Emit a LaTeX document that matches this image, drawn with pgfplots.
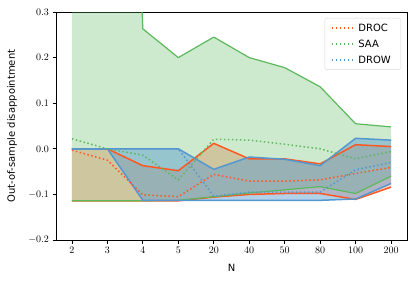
\documentclass[border=0pt]{standalone}
\usepackage{pgfplots}
\pgfplotsset{compat=1.18}
\usepackage{pgfplotstable}
\usepgfplotslibrary{fillbetween}
\usepackage{fontspec}
\setmainfont{DejaVu Sans}
\definecolor{cdroc}{RGB}{255,87,34}
\definecolor{csaa}{RGB}{92,184,92}
\definecolor{cdrow}{RGB}{85,152,207}

\pgfplotstableread{
i mean lo hi
0 -0.003 -0.114 0.000
1 -0.025 -0.114 0.000
2 -0.101 -0.114 -0.037
3 -0.105 -0.114 -0.048
4 -0.056 -0.106 0.012
5 -0.071 -0.100 -0.022
6 -0.071 -0.098 -0.022
7 -0.068 -0.098 -0.033
8 -0.054 -0.111 0.009
9 -0.041 -0.084 0.005
}\droc

\pgfplotstableread{
i mean lo hi
0 0.022 -0.114 2.0
1 0.000 -0.114 2.0
2 -0.014 -0.114 0.263
3 -0.068 -0.113 0.200
4 0.021 -0.105 0.245
5 0.019 -0.097 0.200
6 0.010 -0.090 0.178
7 0.000 -0.083 0.136
8 -0.022 -0.098 0.055
9 -0.006 -0.060 0.048
}\saa

\pgfplotstableread{
i mean lo hi
0 0.000 0.000 0.000
1 0.000 0.000 0.000
2 0.000 -0.113 0.000
3 0.000 -0.113 0.000
4 -0.104 -0.113 -0.045
5 -0.095 -0.113 -0.018
6 -0.095 -0.113 -0.023
7 -0.095 -0.113 -0.037
8 -0.046 -0.110 0.023
9 -0.030 -0.076 0.019
}\drow

\begin{document}
\begin{tikzpicture}
\begin{axis}[
  scale only axis,
  width=351pt, height=228pt,
  xmin=-0.45, xmax=9.45,
  ymin=-0.2, ymax=0.3,
  xtick={0,1,2,3,4,5,6,7,8,9},
  xticklabels={$2$,$3$,$4$,$5$,$20$,$40$,$50$,$80$,$100$,$200$},
  ytick={-0.2,-0.1,0,0.1,0.2,0.3},
  yticklabel style={/pgf/number format/.cd,fixed,fixed zerofill,precision=1},
  tick label style={font=\fontsize{10}{12}\selectfont},
  tick align=outside,
  xtick pos=bottom, ytick pos=left,
  major tick length=3.5pt,
  tick style={black, line width=0.8pt},
  axis line style={line width=0.8pt},
  xlabel={N},
  ylabel={Out-of-sample disappointment},
  label style={font=\fontsize{10}{12}\selectfont},
  every axis x label/.style={at={(axis description cs:0.5,-0.123)},anchor=center},
  every axis y label/.style={at={(axis description cs:-0.125,0.5)},rotate=90,anchor=center},
  legend cell align=left,
  legend image code/.code={\draw[#1] (0pt,0pt) -- (22pt,0pt);},
  legend style={at={(0.983,0.974)}, anchor=north east,
    draw=black!15, rounded corners=2pt, fill=white, fill opacity=0.8, text opacity=1,
    font=\fontsize{10}{12}\selectfont, row sep=4.5pt,
    nodes={inner xsep=4pt, inner ysep=2pt, text height=7.5pt, text depth=0pt},
    inner xsep=6pt, inner ysep=4pt},
  dotted line/.style={line width=1.5pt, dash pattern=on 1.5pt off 2.5pt, line cap=butt},
  solid line/.style={line width=1.5pt, line join=round},
]
% band edges
\addplot[name path=drochi, cdroc, solid line, forget plot] table[x=i,y=hi]{\droc};
\addplot[name path=droclo, cdroc, solid line, forget plot] table[x=i,y=lo]{\droc};
\addplot[name path=saahi, csaa, solid line, line width=1.2pt, forget plot] table[x=i,y=hi]{\saa};
\addplot[name path=saalo, csaa, solid line, line width=1.2pt, forget plot] table[x=i,y=lo]{\saa};
\addplot[name path=drowhi, cdrow, solid line, forget plot] table[x=i,y=hi]{\drow};
\addplot[name path=drowlo, cdrow, solid line, forget plot] table[x=i,y=lo]{\drow};
% bands
\addplot[fill=cdroc, fill opacity=0.3, draw=none, forget plot] fill between[of=drochi and droclo];
\addplot[fill=csaa, fill opacity=0.3, draw=none, forget plot] fill between[of=saahi and saalo];
\addplot[fill=cdrow, fill opacity=0.45, draw=none, forget plot] fill between[of=drowhi and drowlo];
% means
\addplot[cdroc, dotted line] table[x=i,y=mean]{\droc};
\addlegendentry{DROC}
\addplot[csaa, dotted line] table[x=i,y=mean]{\saa};
\addlegendentry{SAA}
\addplot[cdrow, dotted line] table[x=i,y=mean]{\drow};
\addlegendentry{DROW}
\coordinate (sw) at (rel axis cs:0,0);
\coordinate (ne) at (rel axis cs:1,1);
\end{axis}
\pgfresetboundingbox
\path ([shift={(-56pt,-42pt)}]sw) rectangle ([shift={(8pt,12pt)}]ne);
\end{tikzpicture}
\end{document}
